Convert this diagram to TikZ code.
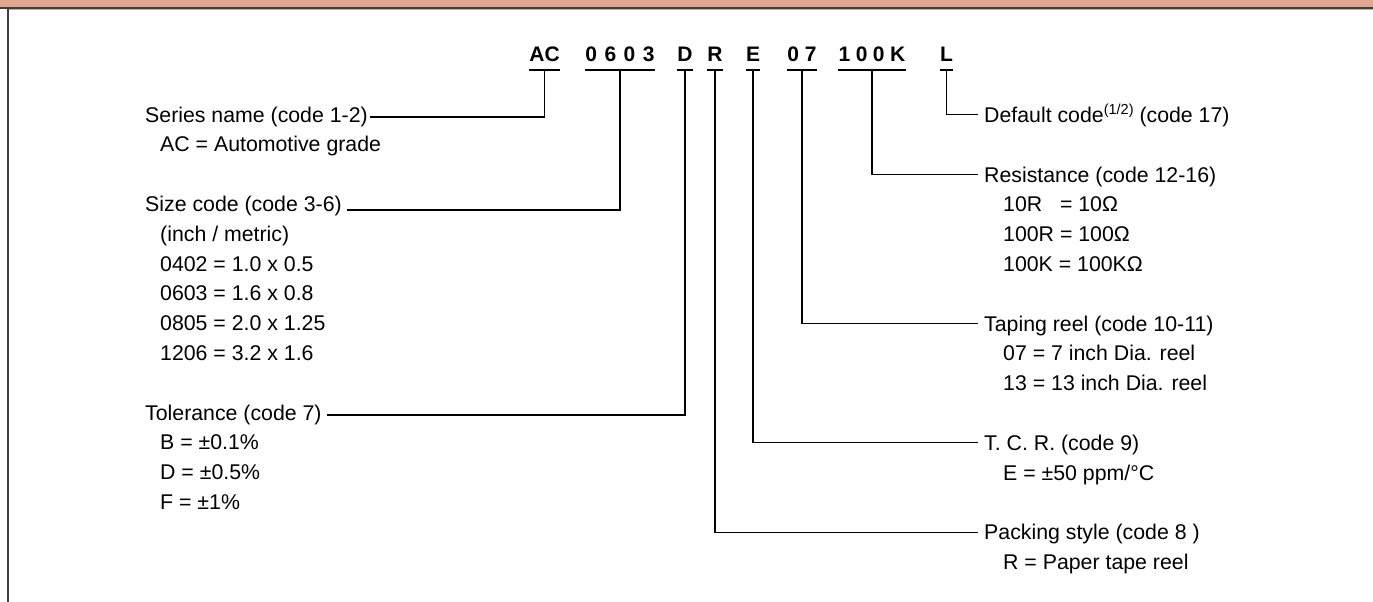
\documentclass[tikz,border=0pt]{standalone}
\usepackage{fontspec}
\setmainfont{Liberation Sans}
\definecolor{band}{RGB}{224,166,142}
\definecolor{frame}{RGB}{64,64,64}
\begin{document}
\begin{tikzpicture}[x=1pt,y=-1pt,
  txt/.style={anchor=base west,inner sep=0pt,font=\fontsize{21.3}{25}\selectfont,text=black},
  codetxt/.style={anchor=base,inner sep=0pt,font=\fontsize{21}{25}\selectfont\bfseries,text=black},
  conn/.style={draw=black,line width=1.2pt},
]
\useasboundingbox (0,0) rectangle (1373,602);
% header band and frame
\fill[band] (0,0) rectangle (1373,8);
\draw[frame,line width=1.4pt] (0,8) -- (1373,8);
\draw[gray!60,line width=0.8pt] (8.8,9.4) -- (1373,9.4);
\draw[frame,line width=1.5pt] (8,8) -- (8,602);

% code groups
\node[codetxt] (cAC)   at (544.5,62) {AC};
\node[codetxt] (cSize) at (620,62)   {0\hspace{7.5pt}6\hspace{7.5pt}0\hspace{7.5pt}3};
\node[codetxt] (cD)    at (685,62)   {D};
\node[codetxt] (cR)    at (715,62)   {R};
\node[codetxt] (cE)    at (753,62)   {E};
\node[codetxt] (cTap)  at (802,62)   {0\hspace{6pt}7};
\node[codetxt] (cRes)  at (872,62)   {1\hspace{5.5pt}0\hspace{5.5pt}0\hspace{5.5pt}K};
\node[codetxt] (cL)    at (946.5,62) {L};

\foreach \n in {cAC,cSize,cD,cR,cE,cTap,cRes,cL}{
  \draw[conn] ([yshift=-8pt]\n.base west) -- ([yshift=-8pt]\n.base east);
  \coordinate (u\n) at ([yshift=-8pt]\n.base);
}

% left column
\node[txt] (series) at (145,122)   {Series name (code 1-2)};
\node[txt] (seriesA) at (160,151.8) {AC = Automotive grade};
\node[txt] (size)   at (145,211.4) {Size code (code 3-6)};
\node[txt] (sizeA)  at (160,241.2) {(inch / metric)};
\node[txt] (sizeB)  at (160,271)   {0402 = 1.0 x 0.5};
\node[txt] (sizeC)  at (160,300.8) {0603 = 1.6 x 0.8};
\node[txt] (sizeD)  at (160,330.6) {0805 = 2.0 x 1.25};
\node[txt] (sizeE)  at (160,360.4) {1206 = 3.2 x 1.6};
\node[txt] (tol)    at (145,420)   {Tolerance (code 7)};
\node[txt] (tolA)   at (160,449.8) {B = ±0.1\%};
\node[txt] (tolB)   at (160,479.6) {D = ±0.5\%};
\node[txt] (tolC)   at (160,509.4) {F = ±1\%};

% right column
\node[txt] (def)    at (984,122.3) {Default code\raisebox{7.5pt}{\fontsize{14.5}{14.5}\selectfont(1/2)} (code 17)};
\node[txt] (res)    at (984,182.1) {Resistance (code 12-16)};
\node[txt] (resA)   at (1003,211.9) {10R\hphantom{0} = 10Ω};
\node[txt] (resB)   at (1003,241.7) {100R = 100Ω};
\node[txt] (resC)   at (1003,271.5) {100K = 100KΩ};
\node[txt] (tap)    at (984,331.1) {Taping reel (code 10-11)};
\node[txt] (tapA)   at (1003,360.9) {07 = 7 inch Dia. reel};
\node[txt] (tapB)   at (1003,390.7) {13 = 13 inch Dia. reel};
\node[txt] (tcr)    at (984,450.3) {T. C. R. (code 9)};
\node[txt] (tcrA)   at (1003,480.1) {E = ±50 ppm/°C};
\node[txt] (pack)   at (984,539.7) {Packing style (code 8 )};
\node[txt] (packA)  at (1003,569.5) {R = Paper tape reel};

% connectors
\draw[conn] (ucAC)   |- ([xshift=2pt,yshift=5pt]series.base east);
\draw[conn] (ucSize) |- ([xshift=5pt,yshift=1.5pt]size.base east);
\draw[conn] (ucD)    |- ([xshift=5pt,yshift=5pt]tol.base east);
\draw[conn] (ucR)    |- ([xshift=-6pt,yshift=7.5pt]pack.base west);
\draw[conn] (ucE)    |- ([xshift=-6pt,yshift=7.5pt]tcr.base west);
\draw[conn] (ucTap)  |- ([xshift=-6pt,yshift=7.5pt]tap.base west);
\draw[conn] (ucRes)  |- ([xshift=-6pt,yshift=7.5pt]res.base west);
\draw[conn] (ucL)    |- ([xshift=-6pt,yshift=7.5pt]def.base west);
\end{tikzpicture}
\end{document}
